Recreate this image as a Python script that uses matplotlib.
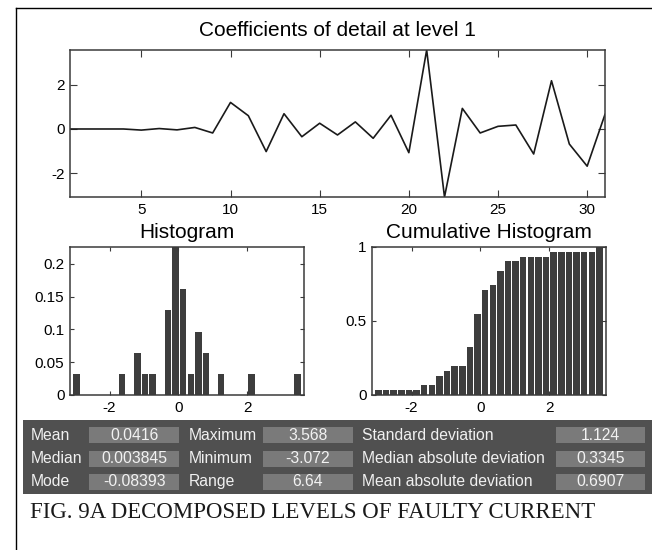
import numpy as np
import matplotlib.pyplot as plt
from matplotlib.lines import Line2D
from matplotlib.patches import Rectangle

plt.rcParams['font.family'] = ['Liberation Sans', 'DejaVu Sans']
plt.rcParams['axes.unicode_minus'] = False

# detail coefficients, level 1 (31 samples)
coef = [0.0, 0.0, 0.0, 0.0, -0.05, 0.02, -0.04, 0.07, -0.18, 1.2,
        0.6, -1.02, 0.69, -0.35, 0.26, -0.27, 0.32, -0.42, 0.62, -1.07,
        3.568, -3.072, 0.93, -0.18, 0.12, 0.18, -1.13, 2.18, -0.68, -1.68, 0.66]

# histogram, 30 bins between min and max
n_bins = 30
data_min, data_max = -3.072, 3.568
counts = [1, 0, 0, 0, 0, 0, 1, 0, 2, 1, 1, 0, 4, 7, 5,
          1, 3, 2, 0, 1, 0, 0, 0, 1, 0, 0, 0, 0, 0, 1]

stat_names = [["Mean", "Median", "Mode"],
              ["Maximum", "Minimum", "Range"],
              ["Standard deviation", "Median absolute deviation", "Mean absolute deviation"]]
stat_values = [["0.0416", "0.003845", "-0.08393"],
               ["3.568", "-3.072", "6.64"],
               ["1.124", "0.3345", "0.6907"]]

W, H = 652, 550
fig = plt.figure(figsize=(W / 100, H / 100), dpi=100)


def box(l, t, r, b):
    return [l / W, 1 - b / H, (r - l) / W, (b - t) / H]


def fx(x):
    return x / W


def fy(y):
    return 1 - y / H


spine_col = '#3a3a3a'
bar_col = '#3d3d3d'


def style(ax, ticklen=4):
    for s in ax.spines.values():
        s.set_color(spine_col)
        s.set_linewidth(1.1)
    ax.tick_params(direction='in', top=True, right=True, length=ticklen,
                   width=0.8, color=spine_col, labelsize=11, pad=4)


# outer frame (left and top only)
fig.add_artist(Line2D([fx(16), fx(16)], [fy(8), 0], color='black', lw=1.0))
fig.add_artist(Line2D([fx(16), 1], [fy(8), fy(8)], color='black', lw=1.0))

# top: coefficients
ax1 = fig.add_axes(box(70, 50, 605, 197))
x = np.arange(1, len(coef) + 1)
ax1.plot(x, coef, color='#1a1a1a', lw=1.2)
ax1.set_xlim(1, len(coef))
ax1.set_ylim(min(coef), max(coef))
ax1.set_xticks([5, 10, 15, 20, 25, 30])
ax1.set_yticks([-2, 0, 2])
style(ax1, 5)
fig.text(fx(337.5), fy(31), "Coefficients of detail at level 1",
         ha='center', va='center', fontsize=15)

edges = np.linspace(data_min, data_max, n_bins + 1)
centers = (edges[:-1] + edges[1:]) / 2
bw = edges[1] - edges[0]
total = sum(counts)
freq = np.array(counts) / total
cum = np.cumsum(counts) / total

# histogram
ax2 = fig.add_axes(box(70, 247, 304, 395))
ax2.bar(centers, freq, width=bw * 0.85, color=bar_col, linewidth=0)
ax2.set_xlim(-3.15, 3.65)
ax2.set_ylim(0, freq.max())
ax2.set_xticks([-2, 0, 2])
ax2.set_yticks([0, 0.05, 0.1, 0.15, 0.2])
ax2.set_yticklabels(["0", "0.05", "0.1", "0.15", "0.2"])
style(ax2, 3)
fig.text(fx(187), fy(233), "Histogram", ha='center', va='center', fontsize=15)

# cumulative histogram
ax3 = fig.add_axes(box(372, 247, 606, 395))
ax3.bar(centers, cum, width=bw * 0.85, color=bar_col, linewidth=0)
ax3.set_xlim(-3.15, 3.65)
ax3.set_ylim(0, 1)
ax3.set_xticks([-2, 0, 2])
ax3.set_yticks([0, 0.5, 1])
ax3.set_yticklabels(["0", "0.5", "1"])
style(ax3, 3)
fig.text(fx(489), fy(233), "Cumulative Histogram", ha='center', va='center', fontsize=15)

# statistics panel
fig.add_artist(Rectangle((fx(23), fy(494)), fx(652 - 23), (494 - 420) / H,
                         transform=fig.transFigure, facecolor='#505050',
                         edgecolor='none'))
label_x = [30.5, 189, 361.5]
value_box = [(89.3, 179), (263.3, 352.7), (555.7, 645)]
row_top = [427, 450.5, 473.5]
row_h = 16
for c in range(3):
    for r in range(3):
        t = row_top[r]
        l, rr = value_box[c]
        fig.add_artist(Rectangle((fx(l), fy(t + row_h)), fx(rr - l), row_h / H,
                                 transform=fig.transFigure, facecolor='#7a7a7a',
                                 edgecolor='none'))
        fig.text(fx((l + rr) / 2), fy(t + row_h / 2), stat_values[c][r],
                 ha='center', va='center', fontsize=11.3, color='#f2f2f2')
        fig.text(fx(label_x[c]), fy(t + row_h / 2), stat_names[c][r],
                 ha='left', va='center', fontsize=11.3, color='#f0f0f0')

fig.text(fx(30), fy(513), "FIG. 9A DECOMPOSED LEVELS OF FAULTY CURRENT",
         ha='left', va='center', fontsize=16.5, family='Liberation Serif',
         color='#1a1a1a')

fig.savefig('out.png', dpi=100)
